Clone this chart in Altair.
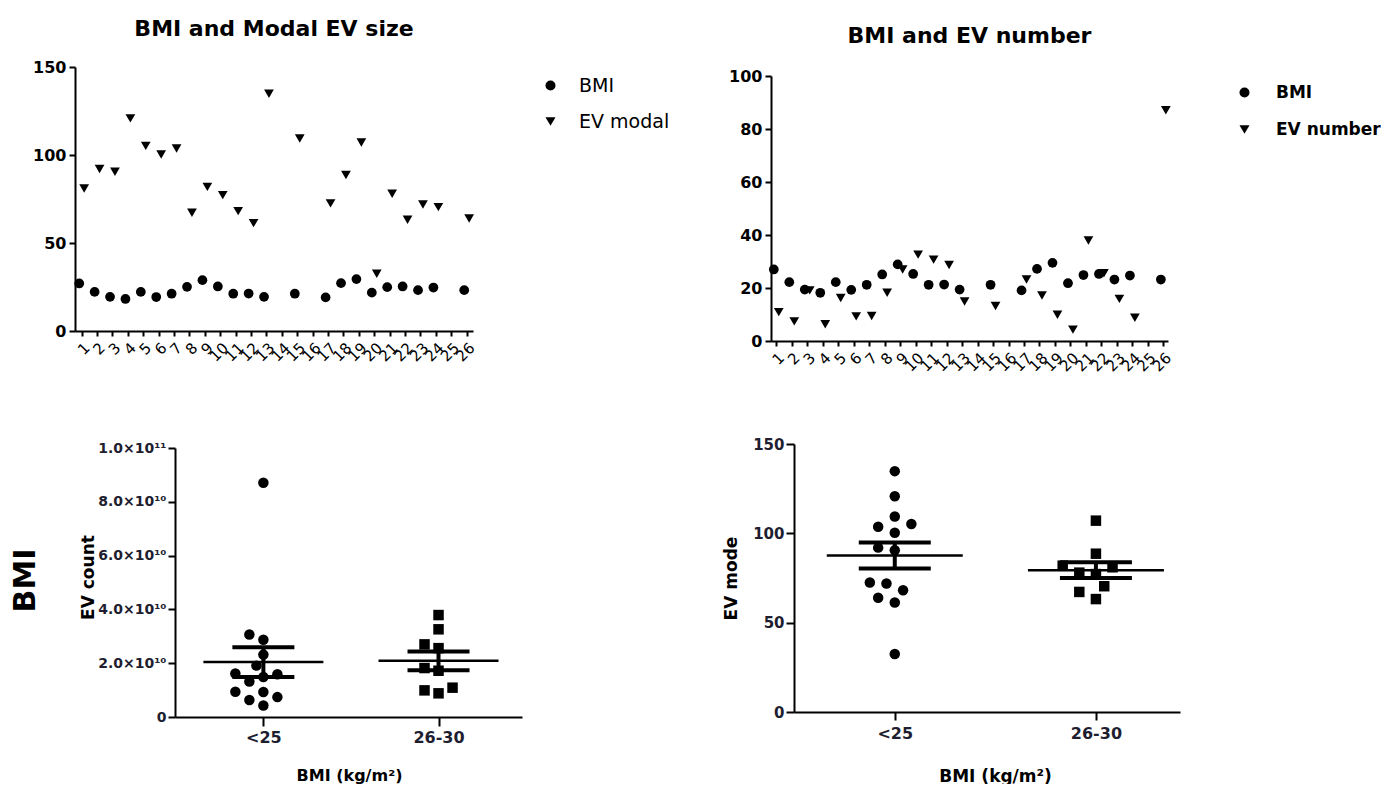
import altair as alt
import pandas as pd

# ---------------- data ----------------
subjects = list(range(1, 27))
bmi = [27.0, 22.2, 19.4, 18.2, 22.2, 19.3, 21.2, 25.1, 28.9, 25.3, 21.2, 21.3, 19.4, None,
       21.2, None, 19.1, 27.2, 29.5, 21.8, 24.9, 25.3, 23.2, 24.7, None, 23.2]
ev_modal = [81.0, 92.0, 90.5, 120.8, 105.2, 100.3, 103.7, 67.2, 81.9, 77.2, 68.1, 61.3, 134.8, None,
            109.4, None, 72.5, 88.6, 107.1, 32.5, 78.0, 63.2, 71.9, 70.4, None, 63.9]
ev_number = [10.9, 7.4, 19.1, 6.3, 16.2, 9.3, 9.4, 18.2, 27.0, 32.6, 30.7, 28.7, 14.9, None,
             13.2, None, 23.2, 17.2, 9.9, 4.3, 37.9, 25.6, 15.9, 8.8, None, 87.1]   # x10^9
bmi_group = ["26-30", "<25", "<25", "<25", "<25", "<25", "<25", "26-30", "26-30", "26-30",
             "<25", "<25", "<25", None, "<25", None, "<25", "26-30", "26-30", "<25",
             "26-30", "26-30", "<25", "26-30", None, "<25"]
group_names = ["<25", "26-30"]

FONT = "DejaVu Sans"
DARK = "#1e1e30"


def axis(**kw):
    d = dict(domainColor="black", domainWidth=2, tickColor="black", tickWidth=2, grid=False,
             labelFont=FONT, titleFont=FONT, labelColor="black", labelOverlap=False,
             labelFlush=False, labelBound=False)
    d.update(kw)
    return alt.Axis(**d)


# ---------------- top panels: long tables ----------------
def long_table(second, name):
    recs = []
    for s, b, v in zip(subjects, bmi, second):
        if b is not None:
            recs.append({"subject": s, "series": "BMI", "value": b, "xpos": s - 0.16})
        if v is not None:
            recs.append({"subject": s, "series": name, "value": v, "xpos": s + 0.16})
    return pd.DataFrame(recs)


dfA = long_table(ev_modal, "EV modal")
dfB = long_table(ev_number, "EV number")

x_top = dict(values=subjects, labelAngle=315, labelFontSize=15, labelPadding=4, tickSize=5,
             title=None)

A = alt.Chart(dfA).mark_point(filled=True, opacity=1, size=95, color="black", strokeWidth=0).encode(
    x=alt.X("xpos:Q", scale=alt.Scale(domain=[0.565, 26.41], nice=False, zero=False), axis=axis(**x_top)),
    y=alt.Y("value:Q", scale=alt.Scale(domain=[0, 150], nice=False),
            axis=axis(values=[0, 50, 100, 150], labelFontSize=16, labelFontWeight="bold",
                      tickSize=6, labelPadding=3, title=None)),
    shape=alt.Shape("series:N", scale=alt.Scale(domain=["BMI", "EV modal"], range=["circle", "triangle-down"]),
                    legend=alt.Legend(orient="none", legendX=466, legendY=9, title=None, padding=0,
                                      labelFont=FONT, labelFontSize=19, labelFontWeight="normal",
                                      labelColor="black",
                                      symbolSize=100, symbolFillColor="black", symbolStrokeWidth=0,
                                      labelOffset=19, rowPadding=16)),
).properties(width=398, height=264,
             title=alt.TitleParams("BMI and Modal EV size", font=FONT, fontSize=22, fontWeight="bold",
                                   anchor="middle", frame="group", baseline="alphabetic", offset=1.5,
                                   color="black"))

B = alt.Chart(dfB).mark_point(filled=True, opacity=1, size=95, color="black", strokeWidth=0).encode(
    x=alt.X("xpos:Q", scale=alt.Scale(domain=[0.658, 26.3], nice=False, zero=False), axis=axis(**x_top)),
    y=alt.Y("value:Q", scale=alt.Scale(domain=[0, 100], nice=False, range=[274, 9]),
            axis=axis(values=[0, 20, 40, 60, 80, 100], labelFontSize=16, labelFontWeight="bold",
                      tickSize=6, labelPadding=3, title=None)),
    shape=alt.Shape("series:N", scale=alt.Scale(domain=["BMI", "EV number"], range=["circle", "triangle-down"]),
                    legend=alt.Legend(orient="none", legendX=465, legendY=17, title=None, padding=0,
                                      labelFont=FONT, labelFontSize=17, labelFontWeight="bold",
                                      labelColor="black", symbolSize=100, symbolFillColor="black",
                                      symbolStrokeWidth=0, labelOffset=23, rowPadding=19)),
).properties(width=397, height=274,
             title=alt.TitleParams("BMI and EV number", font=FONT, fontSize=22, fontWeight="bold",
                                   anchor="middle", frame="group", baseline="alphabetic", offset=2.5,
                                   color="black"))


# ---------------- bottom panels ----------------
def swarm(vals, py_per_unit, step_px, d_px):
    order = sorted(range(len(vals)), key=lambda i: vals[i])
    placed, offs = [], [0.0] * len(vals)
    cands = [0.0]
    for j in range(1, 15):
        cands += [-j * step_px, j * step_px]
    for i in order:
        y = vals[i] * py_per_unit
        for c in cands:
            if all((c - px) ** 2 + (y - py) ** 2 >= d_px * d_px for px, py in placed):
                offs[i] = c
                placed.append((c, y))
                break
    return offs


def group_table(values, scale_factor, py_per_unit, px_per_x, step_px, d_px):
    recs = []
    for gi, g in enumerate(group_names, start=1):
        vals = [v * scale_factor for v, gg in zip(values, bmi_group) if v is not None and gg == g]
        offs = swarm(vals, py_per_unit, step_px, d_px)
        for v, o in zip(vals, offs):
            recs.append({"grp": g, "gx": gi, "value": v, "xpos": gi + o / px_per_x})
    return pd.DataFrame(recs)


dfC = group_table(ev_number, 1e9, 269 / 1e11, 175.0, 7.0, 13.0)
dfD = group_table(ev_modal, 1.0, 268 / 150, 201.0, 8.3, 13.0)

xlabel = "datum.value == 1 ? '<25' : '26-30'"


def dot_panel(df, xscale, yscale, xaxis, yaxis, mean_len, cap_len):
    shape = alt.Shape("grp:N", scale=alt.Scale(domain=group_names, range=["circle", "square"]), legend=None)
    pts = alt.Chart(df).mark_point(filled=True, opacity=1, size=110, color="black", strokeWidth=0).encode(
        x=alt.X("xpos:Q", scale=xscale, axis=xaxis),
        y=alt.Y("value:Q", scale=yscale, axis=yaxis),
        shape=shape)
    agg = alt.Chart(df).transform_aggregate(
        m="mean(value)", se="stderr(value)", groupby=["gx"]
    ).transform_calculate(lo="datum.m - datum.se", hi="datum.m + datum.se")
    xe = alt.X("gx:Q", scale=xscale, axis=xaxis)
    mean_t = agg.mark_tick(orient="horizontal", size=mean_len, thickness=2.5, color="black", opacity=1).encode(
        x=xe, y=alt.Y("m:Q", scale=yscale, axis=yaxis))
    lo_t = agg.mark_tick(orient="horizontal", size=cap_len, thickness=4, color="black", opacity=1).encode(
        x=xe, y=alt.Y("lo:Q", scale=yscale, axis=yaxis))
    hi_t = agg.mark_tick(orient="horizontal", size=cap_len, thickness=4, color="black", opacity=1).encode(
        x=xe, y=alt.Y("hi:Q", scale=yscale, axis=yaxis))
    rule = agg.mark_rule(strokeWidth=4, color="black").encode(
        x=xe, y=alt.Y("lo:Q", scale=yscale, axis=yaxis), y2="hi:Q")
    return alt.layer(pts, rule, mean_t, lo_t, hi_t)


xaxC = axis(values=[1, 2], labelExpr=xlabel, labelFontSize=16, labelFontWeight="bold", labelColor=DARK,
            tickSize=9, labelPadding=3, title="BMI (kg/m²)", titleFontSize=16, titleFontWeight="bold",
            titleColor="black", titleX=174, titleY=58, titleBaseline="middle", titleAlign="center")
yaxC = axis(values=[0, 2e10, 4e10, 6e10, 8e10, 1e11],
            labelExpr="datum.value == 0 ? '0' : (datum.value >= 1e11 ? format(datum.value / 1e11, '.1f') + '×10¹¹' : format(datum.value / 1e10, '.1f') + '×10¹⁰')",
            labelFontSize=14, labelFontWeight="bold", labelColor=DARK, tickSize=7, labelPadding=2,
            title="EV count", titleFontSize=17, titleFontWeight="bold", titleColor="black",
            titleX=-87, titleY=133, titleAngle=270, titleBaseline="middle", titleAlign="center")
C = dot_panel(dfC,
              alt.Scale(domain=[0.4954, 2.4766], range=[0, 347], nice=False, zero=False),
              alt.Scale(domain=[0, 1e11], range=[273, 4], nice=False),
              xaxC, yaxC, 120, 62).properties(width=619, height=273)

xaxD = axis(values=[1, 2], labelExpr=xlabel, labelFontSize=16, labelFontWeight="bold", labelColor=DARK,
            tickSize=8, labelPadding=5, title="BMI (kg/m²)", titleFontSize=17, titleFontWeight="bold",
            titleColor="black", titleX=201, titleY=64, titleBaseline="middle", titleAlign="center")
yaxD = axis(values=[0, 50, 100, 150], labelFontSize=15, labelFontWeight="bold", labelColor=DARK,
            tickSize=8, labelPadding=2, title="EV mode", titleFontSize=17, titleFontWeight="bold",
            titleColor="black", titleX=-63, titleY=134, titleAngle=270, titleBaseline="middle",
            titleAlign="center")
D = dot_panel(dfD,
              alt.Scale(domain=[0.499, 2.418], nice=False, zero=False),
              alt.Scale(domain=[0, 150], nice=False),
              xaxD, yaxD, 136, 72).properties(width=386, height=268)

S = alt.Chart(pd.DataFrame({"v": [0]})).mark_point(opacity=0).encode(
    x=alt.X("v:Q", axis=None, scale=alt.Scale(domain=[0, 1])),
    y=alt.Y("v:Q", axis=None, scale=alt.Scale(domain=[0, 1])),
).properties(width=100, height=273,
             title=alt.TitleParams("BMI", orient="left", anchor="middle", frame="group", font=FONT,
                                   fontSize=30, fontWeight="bold", baseline="middle", offset=16,
                                   color="black"))

row0 = alt.hconcat(A, B, spacing=298, bounds="flush").resolve_scale(shape="independent").resolve_legend(shape="independent")
row1 = alt.hconcat(S, C, D, spacing=0, bounds="flush").resolve_scale(shape="independent").resolve_legend(shape="independent")

chart = alt.vconcat(row0, row1, spacing=62).resolve_scale(shape="independent").resolve_legend(
    shape="independent"
).properties(
    padding={"left": 11, "top": 17, "right": 0, "bottom": 0}
).configure_view(stroke=None)

chart.save("out.html", embed_options={"renderer": "svg", "actions": False})
